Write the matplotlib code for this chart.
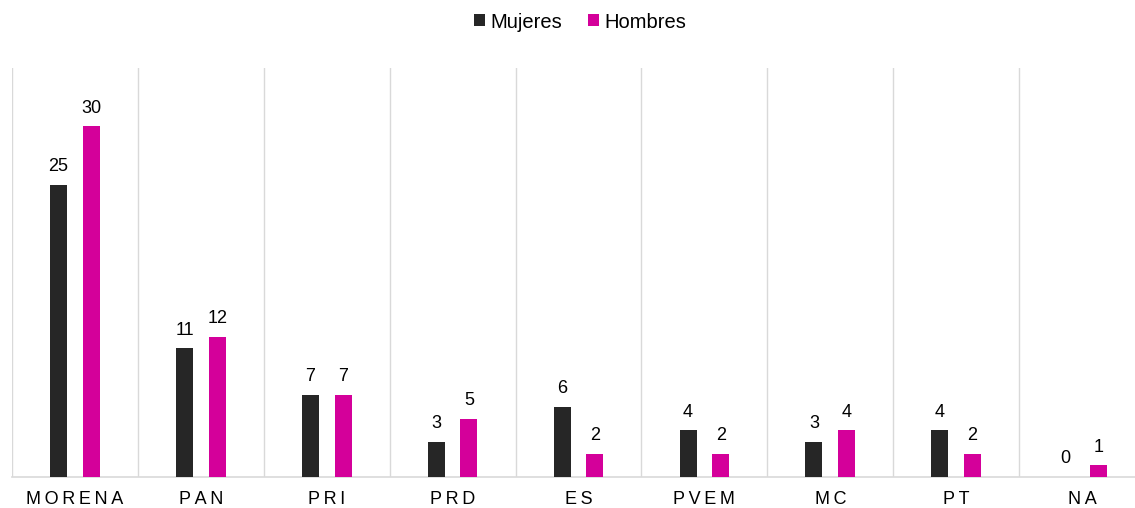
import matplotlib
matplotlib.use("Agg")
import matplotlib.pyplot as plt
import numpy as np

plt.rcParams['font.family'] = ['Liberation Sans', 'DejaVu Sans']

categories = ["MORENA", "PAN", "PRI", "PRD", "ES", "PVEM", "MC", "PT", "NA"]
mujeres = [25, 11, 7, 3, 6, 4, 3, 4, 0]
hombres = [30, 12, 7, 5, 2, 2, 4, 2, 1]

c_m = "#262626"
c_h = "#D4009A"

fig = plt.figure(figsize=(11.35, 5.08), dpi=100)
ax = fig.add_axes([12/1135, (508-477)/508, (1145-12)/1135, (477-68)/508])

x = np.arange(len(categories))
w = 0.135
off = 0.13
b1 = ax.bar(x - off, mujeres, w, color=c_m, label="Mujeres", zorder=3)
b2 = ax.bar(x + off, hombres, w, color=c_h, label="Hombres", zorder=3)

for rects, vals in ((b1, mujeres), (b2, hombres)):
    for r, v in zip(rects, vals):
        ax.annotate(str(v), (r.get_x() + r.get_width()/2, v), xytext=(0, 7),
                    textcoords="offset points", ha="center", va="bottom",
                    fontsize=13, color="black")

ax.set_xlim(-0.5, len(categories) - 0.5)
ax.set_ylim(0, 35)
ax.set_yticks([])
ax.set_xticks(x)
ax.set_xticklabels(["\u2009".join(c) for c in categories], fontsize=13)
ax.tick_params(axis="x", length=0, pad=10)
for xv in np.arange(-0.5, len(categories), 1.0):
    ax.axvline(xv, color="#D9D9D9", lw=1, zorder=1)
for s in ["top", "right", "left"]:
    ax.spines[s].set_visible(False)
ax.spines["bottom"].set_color("#D9D9D9")
ax.spines["bottom"].set_linewidth(1.2)

fig.legend(handles=[b1, b2], loc="center", bbox_to_anchor=(580/1135, 1 - 22/508),
           ncol=2, frameon=False, fontsize=14.5, handlelength=0.55, handleheight=0.55,
           handletextpad=0.25, columnspacing=1.3)

fig.savefig("out.png", dpi=100)
